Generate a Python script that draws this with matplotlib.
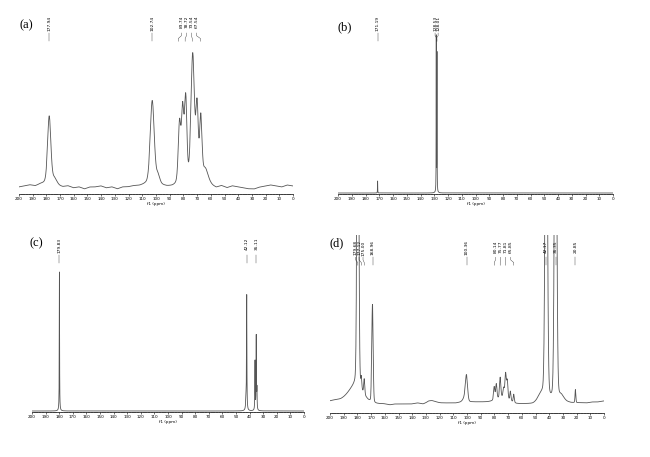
import numpy as np
import matplotlib.pyplot as plt
from matplotlib.ticker import MultipleLocator

# ---- peak tables (ppm, height in px above baseline, half width in ppm) ----
a_pos = [177.94, 174.0, 102.74, 98.5, 82.8, 80.5, 78.3, 73.2, 70.0, 67.3, 64.0]
a_hgt = [68, 6, 84, 8, 60, 70, 82, 128, 72, 62, 14]
a_wid = [1.4, 2.0, 1.7, 1.5, 1.1, 1.0, 1.0, 1.5, 1.0, 1.0, 2.5]

b_pos = [171.19, 128.53, 128.01]
b_hgt = [12, 155, 138]
b_wid = [0.08, 0.08, 0.08]

c_pos = [179.83, 42.12, 42.6, 36.0, 35.11, 34.6]
c_hgt = [139, 113, 12, 49, 74, 20]
c_wid = [0.12, 0.14, 0.3, 0.14, 0.14, 0.14]

d_pos = [181.0, 179.68, 177.12, 175.00, 169.6, 168.96, 125.0, 101.5, 100.36,
         80.14, 78.6, 75.77, 73.2, 71.81, 70.6, 68.3, 65.85, 74.0,
         45.5, 42.17, 35.35, 31.0, 20.85]
d_hgt = [12, 500, 10, 15, 15, 95, 2, 5, 24,
         13, 15, 20, 9, 24, 18, 9, 8, 6,
         8, 450, 450, 5, 13]
d_wid = [6.0, 0.7, 0.35, 0.45, 0.4, 0.55, 3.0, 1.5, 0.9,
         0.55, 0.55, 0.55, 0.55, 0.55, 0.55, 0.45, 0.45, 5.0,
         3.0, 0.9, 0.9, 2.0, 0.35]

# baseline wobble (a) and (d), every 4 ppm from 200 down to 0
base_ppm = np.arange(200, -1, -4)
a_base = [1, 2, 3, 2, 4, 4, 3, 2, 1, 2, 0, 1, -1, 1, 1, 2, 0, 1, -1, 1, 1, 2, 2, 3, 3,
          3, 2, 1, 1, 2, 3, 3, 3, 3, 3, 2, 0, 2, 0, 2, 1, 0, -1, -1, 1, 2, 3, 2, 1, 3, 2]
d_base = [4, 5, 5, 6, 7, 8, 4, 2, 1, 1, 1, 0, 1, 1, 1, 1, 2, 1, 3, 2, 2, 2, 2, 2, 3,
          3, 3, 3, 3, 3, 3, 2, 2, 2, 1, 1, 1, 1, 2, 2, 3, 3, 3, 3, 2, 2, 2, 2, 3, 3, 4]

# peak labels: (text, label x ppm, peak ppm)
a_labels = [("177.94", 177.94, 177.94), ("102.74", 102.74, 102.74),
            ("83.74", 81.5, 83.74), ("78.72", 77.8, 78.72),
            ("73.54", 74.1, 73.54), ("67.54", 70.4, 67.54)]
b_labels = [("171.19", 171.19, 171.19), ("128.53", 129.4, 128.01), ("128.01", 127.2, 128.53)]
c_labels = [("179.83", 179.83, 179.83), ("42.12", 42.12, 42.12), ("35.11", 35.11, 35.11)]
d_labels = [("179.68", 181.3, 179.68), ("177.12", 178.8, 177.12), ("175.00", 175.9, 175.00),
            ("168.96", 168.96, 168.96), ("100.36", 100.36, 100.36),
            ("80.14", 79.2, 80.14), ("75.77", 75.5, 75.77), ("71.81", 71.8, 71.81),
            ("65.85", 68.1, 65.85), ("42.17", 42.17, 42.17), ("35.35", 35.35, 35.35),
            ("20.85", 20.85, 20.85)]

ppm = np.linspace(0, 200, 20001)


def spectrum(pos, hgt, wid, eta):
    y = np.zeros_like(ppm)
    for p, h, w in zip(pos, hgt, wid):
        d = (ppm - p) / w
        y += h * ((1 - eta) * np.exp(-np.log(2) * d**2) + eta / (1 + d**2))
    return y


fig = plt.figure(figsize=(6.5, 4.57), dpi=100)

panels = [
    # rect, ylim, letter, letter pos
    ([19/650, 1-194/457, 274/650, 184/457], (-6, 178), "(a)", (20/650, 1-25/457)),
    ([338/650, 1-194/457, 275/650, 184/457], (-1, 183), "(b)", (338/650, 1-27/457)),
    ([32/650, 1-412/457, 272/650, 180/457], (-1, 179), "(c)", (30/650, 1-243/457)),
    ([330/650, 1-413/457, 274/650, 178/457], (-8, 170), "(d)", (330/650, 1-243/457)),
]
specs = [
    spectrum(a_pos, a_hgt, a_wid, 0.3) + np.interp(ppm, base_ppm[::-1], a_base[::-1]),
    spectrum(b_pos, b_hgt, b_wid, 1.0),
    spectrum(c_pos, c_hgt, c_wid, 1.0),
    spectrum(d_pos, d_hgt, d_wid, 0.15) + np.interp(ppm, base_ppm[::-1], d_base[::-1]),
]
labels = [a_labels, b_labels, c_labels, d_labels]

for (rect, ylim, letter, lpos), y, labs in zip(panels, specs, labels):
    ax = fig.add_axes(rect)
    ax.plot(ppm, y, color='#555555', lw=0.6)
    ax.set_xlim(200, 0)
    ax.set_ylim(*ylim)
    for s in ['top', 'right', 'left']:
        ax.spines[s].set_visible(False)
    ax.spines['bottom'].set_linewidth(0.5)
    ax.set_yticks([])
    ax.xaxis.set_major_locator(MultipleLocator(10))
    ax.xaxis.set_minor_locator(MultipleLocator(2))
    ax.tick_params(axis='x', which='major', labelsize=3, length=1.5, width=0.4, pad=0.8)
    ax.tick_params(axis='x', which='minor', length=1.0, width=0.3)
    ax.set_xlabel("f1 (ppm)", fontsize=3, labelpad=0.5)

    tr = ax.get_xaxis_transform()
    for txt, lx, px in labs:
        ax.text(lx, 0.97, txt, rotation=90, fontsize=3.2, ha='center', va='top',
                transform=tr)
        ax.plot([lx, lx, px, px], [0.875, 0.86, 0.845, 0.83], color='#333333',
                lw=0.3, transform=tr, clip_on=False)

    fig.text(lpos[0], lpos[1], letter, fontsize=9, family='Liberation Serif',
             ha='left', va='center')

fig.savefig('out.png', dpi=100)
